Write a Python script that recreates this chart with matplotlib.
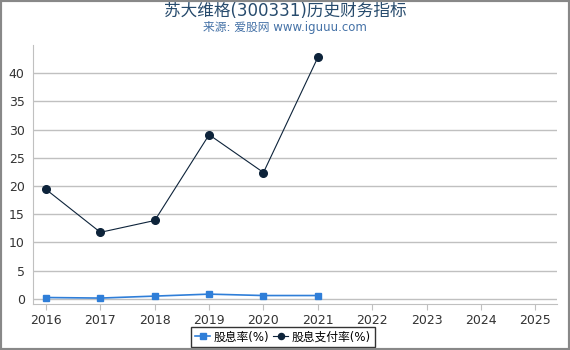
import matplotlib
matplotlib.use("Agg")
import matplotlib.pyplot as plt
from matplotlib.patches import Rectangle

plt.rcParams['font.family'] = ['DejaVu Sans', 'Noto Sans CJK SC']

years = [2016, 2017, 2018, 2019, 2020, 2021]
all_years = list(range(2016, 2026))
dividend_yield = [0.25, 0.15, 0.5, 0.85, 0.6, 0.6]
payout_ratio = [19.4, 11.8, 13.9, 29.1, 22.4, 42.8]
yticks = [0, 5, 10, 15, 20, 25, 30, 35, 40]

fig = plt.figure(figsize=(5.7, 3.5), dpi=100)
ax = fig.add_axes([33/570, 1-304/350, (557-33)/570, (304-45)/350])

ax.plot(years, dividend_yield, color='#2f7ed8', lw=1.2, marker='s', ms=5,
        label='股息率(%)', zorder=3)
ax.plot(years, payout_ratio, color='#0d233a', lw=0.8, marker='o', ms=5.5,
        label='股息支付率(%)', zorder=3)

ax.set_xlim(2015.76, 2025.40)
ax.set_ylim(-0.9, 45)
ax.set_xticks(all_years)
ax.set_yticks(yticks)
ax.grid(axis='y', color='#c0c0c0', lw=1)
ax.set_axisbelow(True)
for s in ['top', 'right']:
    ax.spines[s].set_visible(False)
ax.spines['left'].set_color('#c0c0c0')
ax.spines['bottom'].set_color('#c0c0c0')
ax.tick_params(axis='y', length=0, labelsize=9, colors='#333333', pad=6)
ax.tick_params(axis='x', length=4, color='#c0c0c0', labelsize=9, colors='#333333', pad=3)

fig.text(0.5, 1-11/350, '苏大维格(300331)历史财务指标', ha='center', va='center',
         fontsize=12, color='#274b6d')
fig.text(0.5, 1-28/350, '来源: 爱股网 www.iguuu.com', ha='center', va='center',
         fontsize=8.5, color='#4572a7')

leg = fig.legend(loc='center', bbox_to_anchor=(283/570, 1-337/350), ncol=2,
                 frameon=True, fancybox=False, edgecolor='black', fontsize=8.5,
                 handlelength=1.3, handletextpad=0.3, columnspacing=0.3,
                 borderpad=0.3, markerscale=0.8)
leg.get_frame().set_linewidth(1)

fig.patches.append(Rectangle((0, 0), 1, 1, transform=fig.transFigure, fill=False,
                             edgecolor='#888888', lw=3, zorder=10))

fig.savefig('out.png', dpi=100)
